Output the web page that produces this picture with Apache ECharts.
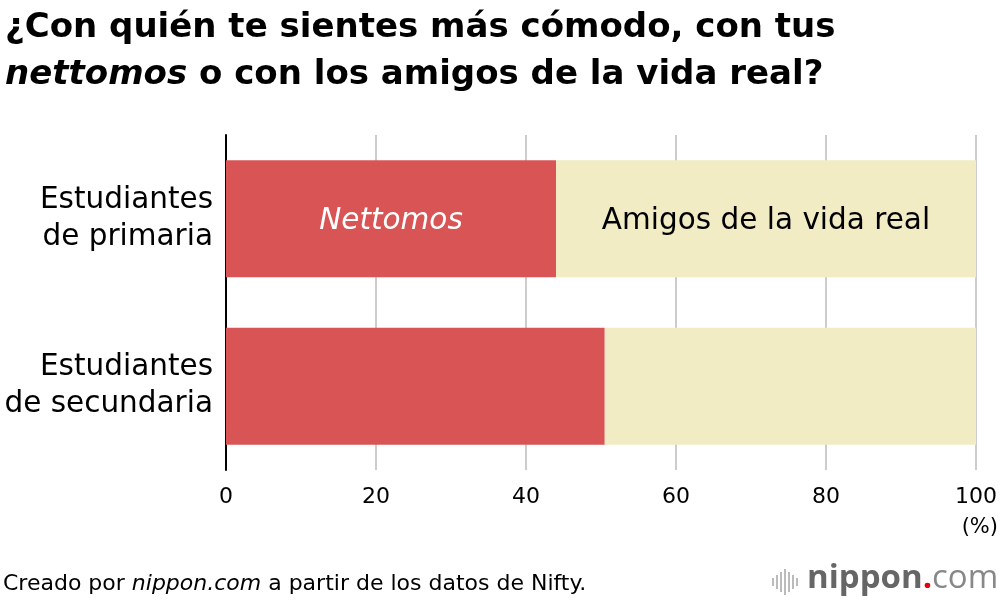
<!DOCTYPE html>
<html><head><meta charset="utf-8">
<script src="https://cdn.jsdelivr.net/npm/echarts@6/dist/echarts.min.js"></script>
<style>html,body{margin:0;padding:0;background:#fff}#c{width:1000px;height:604px}</style>
</head><body><div id="c"></div>
<script>
const categories = ['Estudiantes\nde primaria', 'Estudiantes\nde secundaria'];
const nettomos = [44.0, 50.5];
const amigos = [56.0, 49.5];
const xTicks = [0, 20, 40, 60, 80, 100];
const F = '"DejaVu Sans", "Liberation Sans", Arial, sans-serif';

const chart = echarts.init(document.getElementById('c'), null, {renderer: 'canvas'});
const iconBars = [8, 14, 20, 26, 20, 14, 8];
const logoGraphics = iconBars.map((h, i) => ({
  type: 'rect', shape: {x: 772 + i * 4, y: 582 - h / 2, width: 2, height: h},
  style: {fill: '#bbb'}
}));
chart.setOption({
  animation: false,
  title: {
    left: 0, top: 0,
    text: '{b|¿Con quién te sientes más cómodo, con tus}\n{i|nettomos}{b| o con los amigos de la vida real?}',
    textStyle: {
      rich: {
        b: {fontFamily: F, fontWeight: 'bold', fontSize: 34, color: '#000', lineHeight: 47},
        i: {fontFamily: F, fontWeight: 'bold', fontStyle: 'italic', fontSize: 34, color: '#000', lineHeight: 47}
      }
    }
  },
  grid: {left: 226, right: 23, top: 135, bottom: 134},
  xAxis: {
    type: 'value', min: 0, max: 100, interval: 20,
    axisLine: {show: false}, axisTick: {show: false},
    splitLine: {show: true, lineStyle: {color: '#cccccc', width: 2}},
    axisLabel: {
      fontFamily: F, fontSize: 22, color: '#000', margin: 16,
      formatter: v => xTicks.includes(v) ? String(v) : ''
    }
  },
  yAxis: {
    type: 'category', data: categories, inverse: true,
    axisLine: {show: true, lineStyle: {color: '#000', width: 2}},
    axisTick: {show: false},
    axisLabel: {fontFamily: F, fontSize: 29.5, color: '#000', lineHeight: 37, align: 'right', margin: 13}
  },
  series: [
    {
      type: 'bar', stack: 's', data: nettomos, barWidth: 117,
      itemStyle: {color: '#d95555'},
      label: {
        show: true, position: 'inside', color: '#fff', fontFamily: F, fontSize: 29.5, fontStyle: 'italic',
        offset: [0, 3],
        formatter: p => p.dataIndex === 0 ? 'Nettomos' : ''
      }
    },
    {
      type: 'bar', stack: 's', data: amigos, barWidth: 117,
      itemStyle: {color: '#f1ecc4'},
      label: {
        show: true, position: 'inside', color: '#000', fontFamily: F, fontSize: 29.5,
        offset: [0, 3],
        formatter: p => p.dataIndex === 0 ? 'Amigos de la vida real' : ''
      }
    }
  ],
  graphic: [
    {type: 'text', right: 2, top: 517, style: {text: '(%)', font: '21px ' + F, fill: '#000'}},
    {type: 'text', left: 3, top: 573, style: {
      rich: {
        n: {fontFamily: F, fontSize: 22, fill: '#000'},
        i: {fontFamily: F, fontSize: 22, fontStyle: 'italic', fill: '#000'}
      },
      text: '{n|Creado por }{i|nippon.com}{n| a partir de los datos de Nifty.}'
    }},
    {type: 'text', left: 807, top: 562, style: {
      rich: {
        a: {fontFamily: '"Open Sans", ' + F, fontSize: 33, fontWeight: 'bold', fill: '#666'},
        d: {fontFamily: '"Open Sans", ' + F, fontSize: 33, fontWeight: 'bold', fill: '#e60012'},
        c: {fontFamily: '"Open Sans", ' + F, fontSize: 33, fill: '#888'}
      },
      text: '{a|nippon}{d|.}{c|com}'
    }}
  ].concat(logoGraphics)
});
</script></body></html>
